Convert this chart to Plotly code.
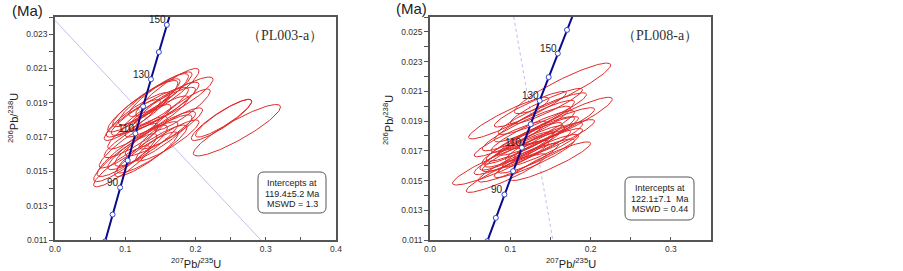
import numpy as np
import plotly.graph_objects as go

# ---------------- data ----------------
# Concordia (age in Ma, 207Pb/235U, 206Pb/238U)
CONC_AGE = [70, 80, 90, 100, 110, 120, 130, 140, 150, 160, 170]
CONC_X = [0.07137, 0.08198, 0.09268, 0.10350, 0.11442, 0.12545, 0.13658, 0.14784, 0.15920, 0.17067, 0.18226]
CONC_Y = [0.010918, 0.012487, 0.014059, 0.015633, 0.017210, 0.018788, 0.020371, 0.021955, 0.023542, 0.025131, 0.026722]
LABEL_AGES = [90, 110, 130, 150]

# Ellipses: centre x, centre y, half-extent x, half-extent y, correlation
A_CX = [0.125, 0.140, 0.150, 0.160, 0.118, 0.135, 0.155, 0.110, 0.170, 0.145, 0.181,
        0.100, 0.110, 0.125, 0.140, 0.095, 0.115, 0.150, 0.130, 0.160, 0.259, 0.237, 0.240,
        0.130, 0.148, 0.120, 0.105, 0.138, 0.165]
A_CY = [0.0188, 0.0192, 0.0195, 0.0196, 0.0183, 0.0185, 0.0188, 0.0180, 0.0191, 0.0182, 0.0186,
        0.0158, 0.0162, 0.0165, 0.0168, 0.0153, 0.0170, 0.0172, 0.0160, 0.0168, 0.0174, 0.0180, 0.0181,
        0.0190, 0.0186, 0.0176, 0.0165, 0.0163, 0.0175]
A_AX = [0.050, 0.050, 0.045, 0.045, 0.045, 0.055, 0.050, 0.040, 0.055, 0.045, 0.040,
        0.045, 0.050, 0.050, 0.055, 0.040, 0.045, 0.050, 0.045, 0.045, 0.062, 0.043, 0.040,
        0.048, 0.052, 0.045, 0.042, 0.050, 0.045]
A_AY = [0.0015, 0.0015, 0.0013, 0.0014, 0.0013, 0.0014, 0.0014, 0.0012, 0.0014, 0.0012, 0.0012,
        0.0014, 0.0015, 0.0014, 0.0015, 0.0012, 0.0012, 0.0013, 0.0013, 0.0012, 0.0015, 0.0012, 0.0011,
        0.0014, 0.0013, 0.0013, 0.0013, 0.0014, 0.0012]
A_RHO = [0.9] * 29

B_CX = [0.088, 0.095, 0.098, 0.165, 0.170, 0.150, 0.120, 0.130, 0.140, 0.115, 0.125,
        0.135, 0.105, 0.120, 0.140, 0.110, 0.130, 0.150, 0.145, 0.125, 0.100, 0.155,
        0.128, 0.118, 0.142, 0.108, 0.135]
B_CY = [0.0162, 0.0155, 0.0192, 0.0212, 0.0190, 0.0163, 0.0185, 0.0190, 0.0195, 0.0175, 0.0178,
        0.0180, 0.0168, 0.0170, 0.0172, 0.0162, 0.0165, 0.0185, 0.0200, 0.0198, 0.0178, 0.0178,
        0.0183, 0.0173, 0.0176, 0.0170, 0.0168]
B_AX = [0.060, 0.050, 0.050, 0.060, 0.057, 0.050, 0.055, 0.050, 0.055, 0.050, 0.055,
        0.050, 0.050, 0.055, 0.050, 0.050, 0.050, 0.055, 0.045, 0.045, 0.045, 0.050,
        0.052, 0.050, 0.048, 0.046, 0.050]
B_AY = [0.0015, 0.0013, 0.0014, 0.0017, 0.0016, 0.0013, 0.0015, 0.0014, 0.0014, 0.0014, 0.0015,
        0.0013, 0.0014, 0.0014, 0.0013, 0.0013, 0.0013, 0.0014, 0.0012, 0.0012, 0.0012, 0.0013,
        0.0014, 0.0014, 0.0013, 0.0013, 0.0013]
B_RHO = [0.92] * 27

# Discordia lines (two end points each)
DISC_A_X = [0.0, 0.293]
DISC_A_Y = [0.0238, 0.011]
DISC_B_X = [0.1043, 0.153]
DISC_B_Y = [0.026, 0.011]

SAMPLES = ["（PL003-a）", "（PL008-a）"]
INTERCEPT = ["119.4±5.2 Ma", "122.1±7.1  Ma"]
MSWD = ["1.3", "0.44"]

# ---------------- figure ----------------
W, H = 903, 271
fig = go.Figure()

RED = "#e02a2a"
NAVY = "#0b0b8c"


def ellipse_trace(cx, cy, ax, ay, rho, xa, ya):
    t = np.linspace(0, 2 * np.pi, 121)
    xs, ys = [], []
    for i in range(len(cx)):
        x = cx[i] + ax[i] * np.cos(t)
        y = cy[i] + ay[i] * (rho[i] * np.cos(t) + np.sqrt(1 - rho[i] ** 2) * np.sin(t))
        xs += list(x) + [None]
        ys += list(y) + [None]
    return go.Scatter(x=xs, y=ys, mode="lines", line=dict(color=RED, width=1),
                      xaxis=xa, yaxis=ya, hoverinfo="skip", showlegend=False)


fig.add_trace(go.Scatter(x=DISC_A_X, y=DISC_A_Y, mode="lines",
                         line=dict(color="rgba(150,150,230,0.6)", width=1),
                         xaxis="x", yaxis="y", showlegend=False))
fig.add_trace(go.Scatter(x=DISC_B_X, y=DISC_B_Y, mode="lines",
                         line=dict(color="rgba(150,150,230,0.65)", width=1, dash="dot"),
                         xaxis="x2", yaxis="y2", showlegend=False))
fig.add_trace(ellipse_trace(A_CX, A_CY, A_AX, A_AY, A_RHO, "x", "y"))
fig.add_trace(ellipse_trace(B_CX, B_CY, B_AX, B_AY, B_RHO, "x2", "y2"))

for xa, ya in (("x", "y"), ("x2", "y2")):
    fig.add_trace(go.Scatter(x=CONC_X, y=CONC_Y, mode="lines+markers",
                             line=dict(color=NAVY, width=2),
                             marker=dict(symbol="circle", size=5, color="white",
                                         line=dict(color="#3344cc", width=1)),
                             xaxis=xa, yaxis=ya, showlegend=False))

plot_left = [(55, 336), (430, 711)]
top_px, bot_px = 17, 240

axis_common = dict(showgrid=False, zeroline=False, showline=True, linecolor="#555555",
                   linewidth=1.5, mirror=True, automargin=False,
                   tickfont=dict(family="Arial, Liberation Sans, sans-serif", size=8.5, color="#333333"))

fig.update_layout(
    template="none",
    width=W, height=H, margin=dict(l=0, r=0, t=0, b=0),
    paper_bgcolor="white", plot_bgcolor="white",
    xaxis=dict(domain=[55 / W, 336 / W], range=[0, 0.4], anchor="y",
               tick0=0, dtick=0.1, tickformat=".1f", ticks="inside", ticklen=3, tickcolor="#555555",
               minor=dict(ticks="inside", ticklen=3, dtick=0.05, tickcolor="#555555"), **axis_common),
    yaxis=dict(domain=[(H - bot_px) / H, (H - top_px) / H], range=[0.011, 0.024], anchor="x",
               tick0=0.011, dtick=0.002, tickformat=".3f", ticks="outside", ticklen=4, tickcolor="#555555",
               minor=dict(ticks="outside", ticklen=4, dtick=0.001, tickcolor="#555555"), **axis_common),
    xaxis2=dict(domain=[430 / W, 711 / W], range=[0, 0.35], anchor="y2",
                tick0=0, dtick=0.1, tickformat=".1f", ticks="inside", ticklen=3, tickcolor="#555555",
                minor=dict(ticks="inside", ticklen=3, dtick=0.05, tickcolor="#555555"), **axis_common),
    yaxis2=dict(domain=[(H - bot_px) / H, (H - top_px) / H], range=[0.011, 0.026], anchor="x2",
                tick0=0.011, dtick=0.002, tickformat=".3f", ticks="outside", ticklen=4, tickcolor="#555555",
                minor=dict(ticks="outside", ticklen=4, dtick=0.001, tickcolor="#555555"), **axis_common),
)

ann = []
FONT = "Arial, Liberation Sans, sans-serif"
# age labels on concordia
for xa, ya in (("x", "y"), ("x2", "y2")):
    for age in LABEL_AGES:
        i = CONC_AGE.index(age)
        ann.append(dict(x=CONC_X[i], y=CONC_Y[i], xref=xa, yref=ya, text=str(age), showarrow=False,
                        xanchor="right", yanchor="middle", xshift=1, yshift=5,
                        font=dict(family=FONT, size=10, color="#222222")))

# (Ma), axis titles, sample names
ma_pos = [(27, 10), (411, 9)]
ytitle_pos = [(13, 118), (388, 120)]
sample_right = [325, 700]
for k in range(2):
    l, r = plot_left[k]
    ann.append(dict(x=ma_pos[k][0] / W, y=(H - ma_pos[k][1]) / H, xref="paper", yref="paper",
                    text="(Ma)", showarrow=False, xanchor="center", yanchor="middle",
                    font=dict(family=FONT, size=15, color="#222222")))
    ann.append(dict(x=ytitle_pos[k][0] / W, y=(H - ytitle_pos[k][1]) / H, xref="paper", yref="paper",
                    text="<sup>206</sup>Pb/<sup>238</sup>U", textangle=-90, showarrow=False,
                    xanchor="center", yanchor="middle",
                    font=dict(family=FONT, size=11, color="#222222")))
    ann.append(dict(x=(l + r) / 2 / W, y=(H - 263) / H, xref="paper", yref="paper",
                    text="<sup>207</sup>Pb/<sup>235</sup>U", showarrow=False,
                    xanchor="center", yanchor="middle",
                    font=dict(family=FONT, size=11, color="#222222")))
    ann.append(dict(x=sample_right[k] / W, y=(H - 35) / H, xref="paper", yref="paper",
                    text=SAMPLES[k], showarrow=False, xanchor="right", yanchor="middle",
                    font=dict(family="Liberation Serif, Times New Roman, serif", size=14, color="#333333")))

# intercept boxes (pixel geometry -> paper)
boxes = [(258, 326, 172, 213), (625, 694, 177, 220)]
shapes = []
for k, (x0, x1, y0, y1) in enumerate(boxes):
    r = 6
    def P(px, py):
        return f"{px / W:.5f},{(H - py) / H:.5f}"
    path = (f"M {P(x0 + r, y0)} L {P(x1 - r, y0)} Q {P(x1, y0)} {P(x1, y0 + r)} "
            f"L {P(x1, y1 - r)} Q {P(x1, y1)} {P(x1 - r, y1)} L {P(x0 + r, y1)} "
            f"Q {P(x0, y1)} {P(x0, y1 - r)} L {P(x0, y0 + r)} Q {P(x0, y0)} {P(x0 + r, y0)} Z")
    shapes.append(dict(type="path", path=path, xref="paper", yref="paper",
                       line=dict(color="#555555", width=1), fillcolor="white", layer="above"))
    cxp = (x0 + x1) / 2
    lines = ["Intercepts at", INTERCEPT[k], "MSWD = " + MSWD[k]]
    for j, txt in enumerate(lines):
        ypx = y0 + (y1 - y0) * (j + 1) / 4 + (1 if k == 0 else 0)
        ann.append(dict(x=cxp / W, y=(H - ypx) / H, xref="paper", yref="paper", text=txt,
                        showarrow=False, xanchor="center", yanchor="middle",
                        font=dict(family=FONT, size=9, color="#222222")))

fig.update_layout(annotations=ann, shapes=shapes)
fig.write_html("out.html", config={"displayModeBar": False},
               post_script="document.body.style.margin='0px';document.body.style.overflow='hidden';")
